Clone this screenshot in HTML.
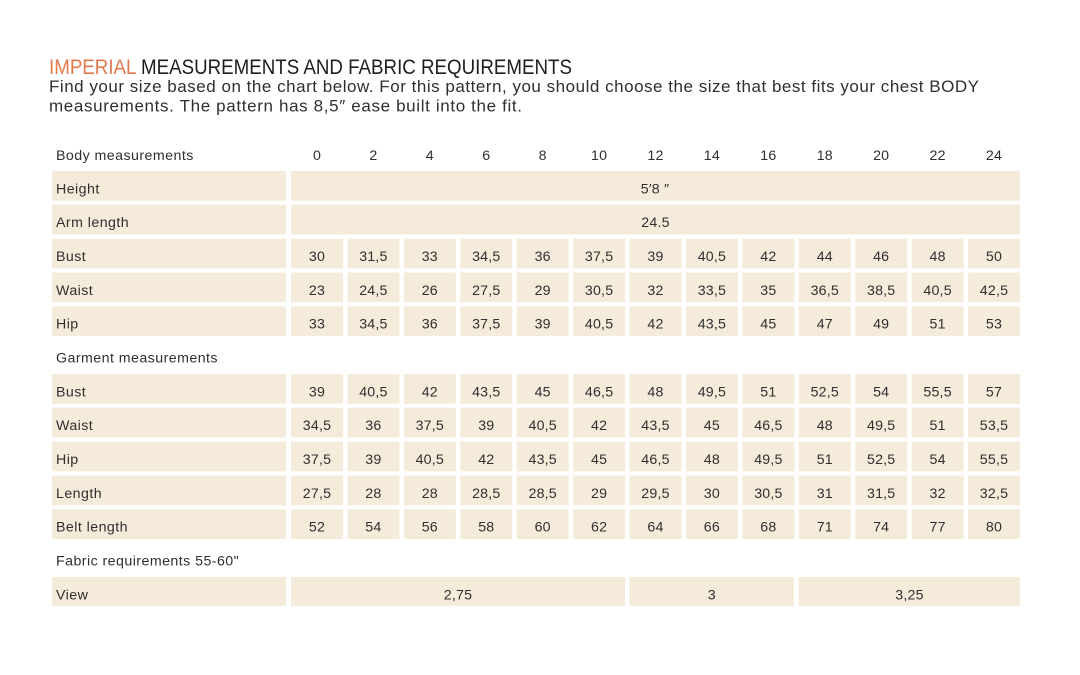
<!DOCTYPE html>
<html><head><meta charset="utf-8"><style>
html,body{margin:0;padding:0;background:#fff;}
svg{display:block;}
text{font-family:"Liberation Sans",sans-serif;fill:#2f2f2f;}
.t{font-size:14.2px;letter-spacing:0.45px;}
.n{font-size:14.2px;text-anchor:middle;letter-spacing:0.2px;}
rect{fill:#f5ebdb;}
</style></head><body>
<svg width="1080" height="675" viewBox="0 0 1080 675" xmlns="http://www.w3.org/2000/svg">
<text x="49" y="74" style="font-size:21.5px;fill:#1e1e1e" textLength="523" lengthAdjust="spacingAndGlyphs"><tspan style="fill:#e2794d">IMPERIAL</tspan> MEASUREMENTS AND FABRIC REQUIREMENTS</text>
<text x="49" y="92" style="font-size:17px" textLength="930" lengthAdjust="spacing">Find your size based on the chart below. For this pattern, you should choose the size that best fits your chest BODY</text>
<text x="49" y="111.5" style="font-size:17px" textLength="473" lengthAdjust="spacing">measurements.  The pattern has 8,5″ ease built into the fit.</text>

<!-- header -->
<text class="t" x="56" y="160">Body measurements</text>
<g class="n">
<text class="n" x="317" y="160">0</text><text class="n" x="373.4" y="160">2</text><text class="n" x="429.8" y="160">4</text><text class="n" x="486.3" y="160">6</text><text class="n" x="542.7" y="160">8</text><text class="n" x="599.1" y="160">10</text><text class="n" x="655.5" y="160">12</text><text class="n" x="711.9" y="160">14</text><text class="n" x="768.4" y="160">16</text><text class="n" x="824.8" y="160">18</text><text class="n" x="881.2" y="160">20</text><text class="n" x="937.6" y="160">22</text><text class="n" x="994" y="160">24</text>
</g>

<!-- Height -->
<rect x="52" y="171" width="234" height="29.7"/><rect x="291" y="171" width="729" height="29.7"/>
<text class="t" x="56" y="193.3">Height</text><text class="n" x="655" y="193.3">5′8 ″</text>

<!-- Arm length -->
<rect x="52" y="204.8" width="234" height="29.7"/><rect x="291" y="204.8" width="729" height="29.7"/>
<text class="t" x="56" y="227.1">Arm length</text><text class="n" x="655.5" y="227.1">24.5</text>

<!-- Bust -->
<g transform="translate(0,238.7)">
<rect x="52" y="0" width="234" height="29.7"/>
<rect x="291" y="0" width="52" height="29.7"/><rect x="347.42" y="0" width="52" height="29.7"/><rect x="403.84" y="0" width="52" height="29.7"/><rect x="460.26" y="0" width="52" height="29.7"/><rect x="516.68" y="0" width="52" height="29.7"/><rect x="573.1" y="0" width="52" height="29.7"/><rect x="629.52" y="0" width="52" height="29.7"/><rect x="685.94" y="0" width="52" height="29.7"/><rect x="742.36" y="0" width="52" height="29.7"/><rect x="798.78" y="0" width="52" height="29.7"/><rect x="855.2" y="0" width="52" height="29.7"/><rect x="911.62" y="0" width="52" height="29.7"/><rect x="968.04" y="0" width="52" height="29.7"/>
<text class="t" x="56" y="22.3">Bust</text>
<text class="n" x="317" y="22.3">30</text><text class="n" x="373.4" y="22.3">31,5</text><text class="n" x="429.8" y="22.3">33</text><text class="n" x="486.3" y="22.3">34,5</text><text class="n" x="542.7" y="22.3">36</text><text class="n" x="599.1" y="22.3">37,5</text><text class="n" x="655.5" y="22.3">39</text><text class="n" x="711.9" y="22.3">40,5</text><text class="n" x="768.4" y="22.3">42</text><text class="n" x="824.8" y="22.3">44</text><text class="n" x="881.2" y="22.3">46</text><text class="n" x="937.6" y="22.3">48</text><text class="n" x="994" y="22.3">50</text>
</g>

<!-- Waist -->
<g transform="translate(0,272.5)">
<rect x="52" y="0" width="234" height="29.7"/>
<rect x="291" y="0" width="52" height="29.7"/><rect x="347.42" y="0" width="52" height="29.7"/><rect x="403.84" y="0" width="52" height="29.7"/><rect x="460.26" y="0" width="52" height="29.7"/><rect x="516.68" y="0" width="52" height="29.7"/><rect x="573.1" y="0" width="52" height="29.7"/><rect x="629.52" y="0" width="52" height="29.7"/><rect x="685.94" y="0" width="52" height="29.7"/><rect x="742.36" y="0" width="52" height="29.7"/><rect x="798.78" y="0" width="52" height="29.7"/><rect x="855.2" y="0" width="52" height="29.7"/><rect x="911.62" y="0" width="52" height="29.7"/><rect x="968.04" y="0" width="52" height="29.7"/>
<text class="t" x="56" y="22.3">Waist</text>
<text class="n" x="317" y="22.3">23</text><text class="n" x="373.4" y="22.3">24,5</text><text class="n" x="429.8" y="22.3">26</text><text class="n" x="486.3" y="22.3">27,5</text><text class="n" x="542.7" y="22.3">29</text><text class="n" x="599.1" y="22.3">30,5</text><text class="n" x="655.5" y="22.3">32</text><text class="n" x="711.9" y="22.3">33,5</text><text class="n" x="768.4" y="22.3">35</text><text class="n" x="824.8" y="22.3">36,5</text><text class="n" x="881.2" y="22.3">38,5</text><text class="n" x="937.6" y="22.3">40,5</text><text class="n" x="994" y="22.3">42,5</text>
</g>

<!-- Hip -->
<g transform="translate(0,306.3)">
<rect x="52" y="0" width="234" height="29.7"/>
<rect x="291" y="0" width="52" height="29.7"/><rect x="347.42" y="0" width="52" height="29.7"/><rect x="403.84" y="0" width="52" height="29.7"/><rect x="460.26" y="0" width="52" height="29.7"/><rect x="516.68" y="0" width="52" height="29.7"/><rect x="573.1" y="0" width="52" height="29.7"/><rect x="629.52" y="0" width="52" height="29.7"/><rect x="685.94" y="0" width="52" height="29.7"/><rect x="742.36" y="0" width="52" height="29.7"/><rect x="798.78" y="0" width="52" height="29.7"/><rect x="855.2" y="0" width="52" height="29.7"/><rect x="911.62" y="0" width="52" height="29.7"/><rect x="968.04" y="0" width="52" height="29.7"/>
<text class="t" x="56" y="22.3">Hip</text>
<text class="n" x="317" y="22.3">33</text><text class="n" x="373.4" y="22.3">34,5</text><text class="n" x="429.8" y="22.3">36</text><text class="n" x="486.3" y="22.3">37,5</text><text class="n" x="542.7" y="22.3">39</text><text class="n" x="599.1" y="22.3">40,5</text><text class="n" x="655.5" y="22.3">42</text><text class="n" x="711.9" y="22.3">43,5</text><text class="n" x="768.4" y="22.3">45</text><text class="n" x="824.8" y="22.3">47</text><text class="n" x="881.2" y="22.3">49</text><text class="n" x="937.6" y="22.3">51</text><text class="n" x="994" y="22.3">53</text>
</g>

<text class="t" x="56" y="362.5">Garment measurements</text>

<!-- G Bust -->
<g transform="translate(0,374)">
<rect x="52" y="0" width="234" height="29.7"/>
<rect x="291" y="0" width="52" height="29.7"/><rect x="347.42" y="0" width="52" height="29.7"/><rect x="403.84" y="0" width="52" height="29.7"/><rect x="460.26" y="0" width="52" height="29.7"/><rect x="516.68" y="0" width="52" height="29.7"/><rect x="573.1" y="0" width="52" height="29.7"/><rect x="629.52" y="0" width="52" height="29.7"/><rect x="685.94" y="0" width="52" height="29.7"/><rect x="742.36" y="0" width="52" height="29.7"/><rect x="798.78" y="0" width="52" height="29.7"/><rect x="855.2" y="0" width="52" height="29.7"/><rect x="911.62" y="0" width="52" height="29.7"/><rect x="968.04" y="0" width="52" height="29.7"/>
<text class="t" x="56" y="22.3">Bust</text>
<text class="n" x="317" y="22.3">39</text><text class="n" x="373.4" y="22.3">40,5</text><text class="n" x="429.8" y="22.3">42</text><text class="n" x="486.3" y="22.3">43,5</text><text class="n" x="542.7" y="22.3">45</text><text class="n" x="599.1" y="22.3">46,5</text><text class="n" x="655.5" y="22.3">48</text><text class="n" x="711.9" y="22.3">49,5</text><text class="n" x="768.4" y="22.3">51</text><text class="n" x="824.8" y="22.3">52,5</text><text class="n" x="881.2" y="22.3">54</text><text class="n" x="937.6" y="22.3">55,5</text><text class="n" x="994" y="22.3">57</text>
</g>

<!-- G Waist -->
<g transform="translate(0,407.8)">
<rect x="52" y="0" width="234" height="29.7"/>
<rect x="291" y="0" width="52" height="29.7"/><rect x="347.42" y="0" width="52" height="29.7"/><rect x="403.84" y="0" width="52" height="29.7"/><rect x="460.26" y="0" width="52" height="29.7"/><rect x="516.68" y="0" width="52" height="29.7"/><rect x="573.1" y="0" width="52" height="29.7"/><rect x="629.52" y="0" width="52" height="29.7"/><rect x="685.94" y="0" width="52" height="29.7"/><rect x="742.36" y="0" width="52" height="29.7"/><rect x="798.78" y="0" width="52" height="29.7"/><rect x="855.2" y="0" width="52" height="29.7"/><rect x="911.62" y="0" width="52" height="29.7"/><rect x="968.04" y="0" width="52" height="29.7"/>
<text class="t" x="56" y="22.3">Waist</text>
<text class="n" x="317" y="22.3">34,5</text><text class="n" x="373.4" y="22.3">36</text><text class="n" x="429.8" y="22.3">37,5</text><text class="n" x="486.3" y="22.3">39</text><text class="n" x="542.7" y="22.3">40,5</text><text class="n" x="599.1" y="22.3">42</text><text class="n" x="655.5" y="22.3">43,5</text><text class="n" x="711.9" y="22.3">45</text><text class="n" x="768.4" y="22.3">46,5</text><text class="n" x="824.8" y="22.3">48</text><text class="n" x="881.2" y="22.3">49,5</text><text class="n" x="937.6" y="22.3">51</text><text class="n" x="994" y="22.3">53,5</text>
</g>

<!-- G Hip -->
<g transform="translate(0,441.6)">
<rect x="52" y="0" width="234" height="29.7"/>
<rect x="291" y="0" width="52" height="29.7"/><rect x="347.42" y="0" width="52" height="29.7"/><rect x="403.84" y="0" width="52" height="29.7"/><rect x="460.26" y="0" width="52" height="29.7"/><rect x="516.68" y="0" width="52" height="29.7"/><rect x="573.1" y="0" width="52" height="29.7"/><rect x="629.52" y="0" width="52" height="29.7"/><rect x="685.94" y="0" width="52" height="29.7"/><rect x="742.36" y="0" width="52" height="29.7"/><rect x="798.78" y="0" width="52" height="29.7"/><rect x="855.2" y="0" width="52" height="29.7"/><rect x="911.62" y="0" width="52" height="29.7"/><rect x="968.04" y="0" width="52" height="29.7"/>
<text class="t" x="56" y="22.3">Hip</text>
<text class="n" x="317" y="22.3">37,5</text><text class="n" x="373.4" y="22.3">39</text><text class="n" x="429.8" y="22.3">40,5</text><text class="n" x="486.3" y="22.3">42</text><text class="n" x="542.7" y="22.3">43,5</text><text class="n" x="599.1" y="22.3">45</text><text class="n" x="655.5" y="22.3">46,5</text><text class="n" x="711.9" y="22.3">48</text><text class="n" x="768.4" y="22.3">49,5</text><text class="n" x="824.8" y="22.3">51</text><text class="n" x="881.2" y="22.3">52,5</text><text class="n" x="937.6" y="22.3">54</text><text class="n" x="994" y="22.3">55,5</text>
</g>

<!-- Length -->
<g transform="translate(0,475.5)">
<rect x="52" y="0" width="234" height="29.7"/>
<rect x="291" y="0" width="52" height="29.7"/><rect x="347.42" y="0" width="52" height="29.7"/><rect x="403.84" y="0" width="52" height="29.7"/><rect x="460.26" y="0" width="52" height="29.7"/><rect x="516.68" y="0" width="52" height="29.7"/><rect x="573.1" y="0" width="52" height="29.7"/><rect x="629.52" y="0" width="52" height="29.7"/><rect x="685.94" y="0" width="52" height="29.7"/><rect x="742.36" y="0" width="52" height="29.7"/><rect x="798.78" y="0" width="52" height="29.7"/><rect x="855.2" y="0" width="52" height="29.7"/><rect x="911.62" y="0" width="52" height="29.7"/><rect x="968.04" y="0" width="52" height="29.7"/>
<text class="t" x="56" y="22.3">Length</text>
<text class="n" x="317" y="22.3">27,5</text><text class="n" x="373.4" y="22.3">28</text><text class="n" x="429.8" y="22.3">28</text><text class="n" x="486.3" y="22.3">28,5</text><text class="n" x="542.7" y="22.3">28,5</text><text class="n" x="599.1" y="22.3">29</text><text class="n" x="655.5" y="22.3">29,5</text><text class="n" x="711.9" y="22.3">30</text><text class="n" x="768.4" y="22.3">30,5</text><text class="n" x="824.8" y="22.3">31</text><text class="n" x="881.2" y="22.3">31,5</text><text class="n" x="937.6" y="22.3">32</text><text class="n" x="994" y="22.3">32,5</text>
</g>

<!-- Belt length -->
<g transform="translate(0,509.3)">
<rect x="52" y="0" width="234" height="29.7"/>
<rect x="291" y="0" width="52" height="29.7"/><rect x="347.42" y="0" width="52" height="29.7"/><rect x="403.84" y="0" width="52" height="29.7"/><rect x="460.26" y="0" width="52" height="29.7"/><rect x="516.68" y="0" width="52" height="29.7"/><rect x="573.1" y="0" width="52" height="29.7"/><rect x="629.52" y="0" width="52" height="29.7"/><rect x="685.94" y="0" width="52" height="29.7"/><rect x="742.36" y="0" width="52" height="29.7"/><rect x="798.78" y="0" width="52" height="29.7"/><rect x="855.2" y="0" width="52" height="29.7"/><rect x="911.62" y="0" width="52" height="29.7"/><rect x="968.04" y="0" width="52" height="29.7"/>
<text class="t" x="56" y="22.3">Belt length</text>
<text class="n" x="317" y="22.3">52</text><text class="n" x="373.4" y="22.3">54</text><text class="n" x="429.8" y="22.3">56</text><text class="n" x="486.3" y="22.3">58</text><text class="n" x="542.7" y="22.3">60</text><text class="n" x="599.1" y="22.3">62</text><text class="n" x="655.5" y="22.3">64</text><text class="n" x="711.9" y="22.3">66</text><text class="n" x="768.4" y="22.3">68</text><text class="n" x="824.8" y="22.3">71</text><text class="n" x="881.2" y="22.3">74</text><text class="n" x="937.6" y="22.3">77</text><text class="n" x="994" y="22.3">80</text>
</g>

<text class="t" x="56" y="565.4">Fabric requirements 55-60"</text>

<!-- View -->
<g transform="translate(0,577)">
<rect x="52" y="0" width="234" height="29"/>
<rect x="291" y="0" width="334" height="29"/>
<rect x="629.52" y="0" width="164.5" height="29"/>
<rect x="798.78" y="0" width="221.3" height="29"/>
<text class="t" x="56" y="22.3">View</text>
<text class="n" x="458" y="22.3">2,75</text>
<text class="n" x="711.8" y="22.3">3</text>
<text class="n" x="909.5" y="22.3">3,25</text>
</g>
</svg>
</body></html>
